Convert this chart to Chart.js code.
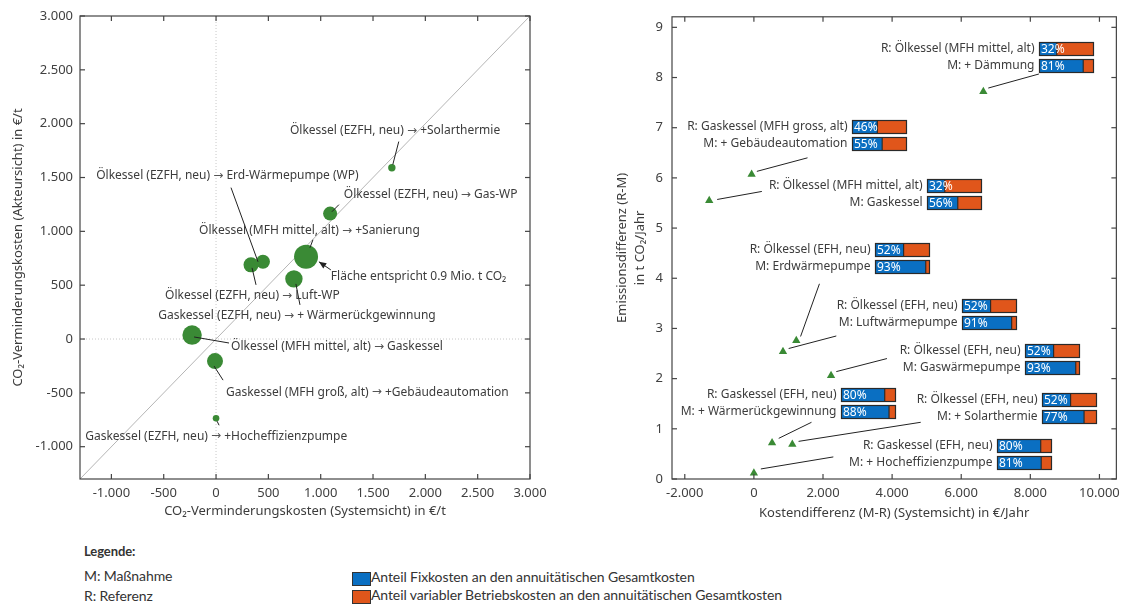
<!DOCTYPE html>
<html>
<head>
<meta charset="utf-8">
<script src="https://cdn.jsdelivr.net/npm/chart.js@4.4.0/dist/chart.umd.min.js"></script>
<style>
  body { margin: 0; background: #fff; width: 1126px; height: 605px; overflow: hidden; position: relative; font-family: 'Noto Sans', sans-serif; }
  #wrapL { position: absolute; left: 0; top: 0; width: 560px; height: 530px; }
  #wrapR { position: absolute; left: 590px; top: 0; width: 536px; height: 530px; }
  .lg { position: absolute; font-family: 'Lato', sans-serif; font-size: 14px; color: #333; white-space: nowrap; letter-spacing: -0.1px; }
  .sw { position: absolute; width: 17px; height: 12px; border: 1px solid #333; }
</style>
</head>
<body>
<div id="wrapL"><canvas id="leftChart"></canvas></div>
<div id="wrapR"><canvas id="rightChart"></canvas></div>

<div class="lg" style="left:84px;top:543px;font-weight:bold;font-size:13px;">Legende:</div>
<div class="lg" style="left:84px;top:567px;">M: Maßnahme</div>
<div class="lg" style="left:84px;top:587px;">R: Referenz</div>
<div class="sw" style="left:352px;top:572px;background:#0a6fc2;"></div>
<div class="lg" style="left:371px;top:568px;">Anteil Fixkosten an den annuitätischen Gesamtkosten</div>
<div class="sw" style="left:352px;top:590px;background:#e0561b;"></div>
<div class="lg" style="left:371px;top:586px;">Anteil variabler Betriebskosten an den annuitätischen Gesamtkosten</div>

<script>
// -------- Data: left chart (CO2 abatement costs, bubble area = CO2 volume) --------
const leftNames = [
  'Ölkessel (EZFH, neu) → +Solarthermie',
  'Ölkessel (EZFH, neu) → Gas-WP',
  'Ölkessel (MFH mittel, alt) → +Sanierung',
  'Ölkessel (EZFH, neu) → Erd-Wärmepumpe (WP)',
  'Ölkessel (EZFH, neu) → Luft-WP',
  'Gaskessel (EZFH, neu) → + Wärmerückgewinnung',
  'Ölkessel (MFH mittel, alt) → Gaskessel',
  'Gaskessel (MFH groß, alt) → +Gebäudeautomation',
  'Gaskessel (EZFH, neu) → +Hocheffizienzpumpe',
];
const costSystem = [1680, 1090, 860, 448, 334, 744, -229, -10, 0];
const costActor = [1590, 1165, 765, 717, 689, 559, 37, -205, -736];
const bubbleRadius = [3.7, 7, 12, 7, 7.5, 8.7, 9.7, 8, 3.3];
const leftTicks = [-1000, -500, 0, 500, 1000, 1500, 2000, 2500, 3000];

// -------- Data: right chart (cost vs. emission difference) --------
const refNames = [
  'R: Ölkessel (MFH mittel, alt)', 'R: Gaskessel (MFH gross, alt)', 'R: Ölkessel (MFH mittel, alt)',
  'R: Ölkessel (EFH, neu)', 'R: Ölkessel (EFH, neu)', 'R: Ölkessel (EFH, neu)',
  'R: Gaskessel (EFH, neu)', 'R: Ölkessel (EFH, neu)', 'R: Gaskessel (EFH, neu)',
];
const measNames = [
  'M: + Dämmung', 'M: + Gebäudeautomation', 'M: Gaskessel',
  'M: Erdwärmepumpe', 'M: Luftwärmepumpe', 'M: Gaswärmepumpe',
  'M: + Wärmerückgewinnung', 'M: + Solarthermie', 'M: + Hocheffizienzpumpe',
];
const costDiff = [6640, -66, -1293, 1227, 842, 2233, 526, 1112, 0];
const emisDiff = [7.72, 6.07, 5.55, 2.76, 2.54, 2.06, 0.72, 0.69, 0.12];
const refFixShare = [32, 46, 32, 52, 52, 52, 80, 52, 80];
const measFixShare = [81, 55, 56, 93, 91, 93, 88, 77, 81];
const rightXTicks = [-2000, 0, 2000, 4000, 6000, 8000, 10000];
const rightYTicks = [0, 1, 2, 3, 4, 5, 6, 7, 8, 9];

// -------- Layout of annotations (data coordinates) --------
const leftLabelPos = [[706, 1937], [1221, 1341], [-162, 1006], [-1145, 1518], [-487, 400], [-553, 214], [143, -74], [95, -493], [-1250, -903]];
const leftLeaders = [
  [1746, 1834, 1689, 1620], [1174, 1248, 1107, 1182], [926, 922, 897, 847],
  [143, 1406, 401, 717], [382, 503, 344, 661], [802, 317, 763, 512],
  [124, -37, -210, 19], [67, -382, -19, -251], [29, -801, 10, -763],
];
const areaNotePos = [1097, 577];
const areaArrow = [1097, 642, 983, 717];

const blockPos = [[8248, 8.70], [2845, 7.16], [5000, 5.97], [3506, 4.70], [6035, 3.59], [7846, 2.70], [2529, 1.82], [8334, 1.72], [7041, 0.79]];
const rightLeaders = [
  [8248, 8.07, 6783, 7.79], [1552, 6.40, 86, 6.13], [230, 5.73, -1063, 5.57],
  [1897, 3.89, 1351, 2.84], [2385, 2.85, 1006, 2.60], [3851, 2.40, 2385, 2.14],
  [1667, 1.13, 718, 0.81], [4828, 1.13, 1293, 0.75], [2299, 0.44, 201, 0.20],
];

// -------- Styles --------
const GREEN = '#3a8a35';
const BLUE = '#0a6fc2';
const ORANGE = '#e0561b';
const TEXT = '#3c3c3c';
const FONT = "'Noto Sans', sans-serif";

// -------- Utils --------
function fmtDE(v) {
  const s = Math.abs(v).toString().replace(/\B(?=(\d{3})+(?!\d))/g, '.');
  return (v < 0 ? '-' : '') + s;
}
function line(ctx, x1, y1, x2, y2) {
  ctx.beginPath(); ctx.moveTo(x1, y1); ctx.lineTo(x2, y2); ctx.stroke();
}
// left-aligned text where the arrow glyph gets a wider font
function arrowText(ctx, text, x, y) {
  const parts = text.split('→');
  let cx = x;
  parts.forEach((p, i) => {
    ctx.font = `12px ${FONT}`;
    ctx.fillStyle = TEXT;
    ctx.fillText(p, cx, y);
    cx += ctx.measureText(p).width;
    if (i < parts.length - 1) {
      ctx.font = "12px 'DejaVu Sans'";
      ctx.fillStyle = '#555';
      ctx.fillText('→', cx, y);
      cx += ctx.measureText('→').width;
    }
  });
}

// frame with inward tick marks on all four sides
const frameTicks = {
  id: 'frameTicks',
  afterDraw(chart) {
    const { ctx, chartArea: a, scales: { x, y } } = chart;
    ctx.save();
    ctx.strokeStyle = '#444';
    ctx.lineWidth = 1.2;
    ctx.strokeRect(a.left, a.top, a.right - a.left, a.bottom - a.top);
    const len = 5;
    x.ticks.forEach(t => {
      const px = x.getPixelForValue(t.value);
      line(ctx, px, a.bottom, px, a.bottom - len);
      line(ctx, px, a.top, px, a.top + len);
    });
    y.ticks.forEach(t => {
      const py = y.getPixelForValue(t.value);
      line(ctx, a.left, py, a.left + len, py);
      line(ctx, a.right, py, a.right - len, py);
    });
    ctx.restore();
  }
};

// dotted zero lines (left chart)
const zeroLines = {
  id: 'zeroLines',
  beforeDatasetsDraw(chart) {
    const { ctx, chartArea: a, scales: { x, y } } = chart;
    ctx.save();
    ctx.strokeStyle = '#c8c8c8';
    ctx.lineWidth = 1;
    ctx.setLineDash([1, 2]);
    const px = x.getPixelForValue(0), py = y.getPixelForValue(0);
    line(ctx, px, a.top, px, a.bottom);
    line(ctx, a.left, py, a.right, py);
    ctx.restore();
  }
};

const leftNotes = {
  id: 'leftNotes',
  afterDatasetsDraw(chart) {
    const { ctx, scales: { x, y } } = chart;
    ctx.save();
    ctx.strokeStyle = '#222';
    ctx.lineWidth = 1;
    leftLeaders.forEach(l => line(ctx, x.getPixelForValue(l[0]), y.getPixelForValue(l[1]), x.getPixelForValue(l[2]), y.getPixelForValue(l[3])));
    // arrow for the area note
    const ax1 = x.getPixelForValue(areaArrow[0]), ay1 = y.getPixelForValue(areaArrow[1]);
    const ax2 = x.getPixelForValue(areaArrow[2]), ay2 = y.getPixelForValue(areaArrow[3]);
    line(ctx, ax1, ay1, ax2, ay2);
    const ang = Math.atan2(ay2 - ay1, ax2 - ax1);
    ctx.fillStyle = '#222';
    ctx.beginPath();
    ctx.moveTo(ax2, ay2);
    ctx.lineTo(ax2 - 8 * Math.cos(ang - 0.4), ay2 - 8 * Math.sin(ang - 0.4));
    ctx.lineTo(ax2 - 8 * Math.cos(ang + 0.4), ay2 - 8 * Math.sin(ang + 0.4));
    ctx.closePath();
    ctx.fill();

    ctx.textAlign = 'left';
    ctx.textBaseline = 'middle';
    leftNames.forEach((t, i) => arrowText(ctx, t, x.getPixelForValue(leftLabelPos[i][0]), y.getPixelForValue(leftLabelPos[i][1])));
    arrowText(ctx, 'Fläche entspricht 0.9 Mio. t CO₂', x.getPixelForValue(areaNotePos[0]), y.getPixelForValue(areaNotePos[1]));
    ctx.restore();
  }
};

const rightNotes = {
  id: 'rightNotes',
  afterDatasetsDraw(chart) {
    const { ctx, scales: { x, y } } = chart;
    const barW = 54, barH = 13, gap = 4;
    ctx.save();
    ctx.strokeStyle = '#222';
    ctx.lineWidth = 1;
    rightLeaders.forEach(l => line(ctx, x.getPixelForValue(l[0]), y.getPixelForValue(l[1]), x.getPixelForValue(l[2]), y.getPixelForValue(l[3])));

    blockPos.forEach((p, i) => {
      const bx = Math.round(x.getPixelForValue(p[0])) + 0.5;
      const by = Math.round(y.getPixelForValue(p[1])) + 0.5;
      [refFixShare[i], measFixShare[i]].forEach((share, k) => {
        const top = by + k * (barH + gap);
        const wb = barW * share / 100;
        ctx.fillStyle = BLUE;
        ctx.fillRect(bx, top, wb, barH);
        ctx.fillStyle = ORANGE;
        ctx.fillRect(bx + wb, top, barW - wb, barH);
        ctx.strokeStyle = '#2a2a2a';
        ctx.lineWidth = 1.2;
        ctx.strokeRect(bx, top, barW, barH);
        line(ctx, bx + wb, top, bx + wb, top + barH);
        ctx.fillStyle = '#fff';
        ctx.font = `12px ${FONT}`;
        ctx.textAlign = 'left';
        ctx.textBaseline = 'middle';
        ctx.fillText(share + '%', bx + 1.5, top + barH / 2 + 0.5);
      });
      ctx.fillStyle = TEXT;
      ctx.font = `12px ${FONT}`;
      ctx.textAlign = 'right';
      ctx.textBaseline = 'middle';
      ctx.fillText(refNames[i], bx - 5, by + barH / 2);
      ctx.fillText(measNames[i], bx - 5, by + barH + gap + barH / 2);
    });
    ctx.restore();
  }
};

function axisCommon(ticksList, fit, pad) {
  return {
    type: 'linear',
    grid: { display: false, drawTicks: false },
    border: { display: false },
    afterBuildTicks: s => { s.ticks = ticksList.map(v => ({ value: v })); },
    afterFit: fit,
    ticks: { color: '#404040', font: { family: FONT, size: 13 }, padding: pad, callback: v => fmtDE(v) },
  };
}

// -------- Charts --------
new Chart(document.getElementById('leftChart'), {
  type: 'bubble',
  data: {
    datasets: [
      {
        data: costSystem.map((v, i) => ({ x: v, y: costActor[i], r: bubbleRadius[i] })),
        backgroundColor: GREEN,
        borderColor: GREEN,
        borderWidth: 0,
        order: 1,
      },
      {
        type: 'line',
        data: [{ x: -1300, y: -1300 }, { x: 3000, y: 3000 }],
        borderColor: '#b5b5b5',
        borderWidth: 1,
        pointRadius: 0,
        order: 2,
      },
    ],
  },
  options: {
    responsive: true,
    maintainAspectRatio: false,
    animation: false,
    events: [],
    layout: { padding: { top: 16, right: 30, left: 0, bottom: 0 } },
    plugins: { legend: { display: false }, tooltip: { enabled: false } },
    scales: {
      x: {
        ...axisCommon(leftTicks, s => { s.height = 51; }, 6),
        min: -1300, max: 3000,
        title: { display: true, text: 'CO₂-Verminderungskosten (Systemsicht) in €/t', color: TEXT, font: { family: FONT, size: 13 }, padding: { top: 0, bottom: 11 } },
      },
      y: {
        ...axisCommon(leftTicks, s => { s.width = 80; }, 7),
        min: -1300, max: 3000,
        title: { display: true, text: 'CO₂-Verminderungskosten (Akteursicht) in €/t', color: TEXT, font: { family: FONT, size: 13 }, padding: { top: 10, bottom: 0 } },
      },
    },
  },
  plugins: [zeroLines, leftNotes, frameTicks],
});

new Chart(document.getElementById('rightChart'), {
  type: 'scatter',
  data: {
    datasets: [{
      data: costDiff.map((v, i) => ({ x: v, y: emisDiff[i] })),
      pointStyle: 'triangle',
      pointRadius: 4.8,
      backgroundColor: GREEN,
      borderColor: GREEN,
      borderWidth: 0,
    }],
  },
  options: {
    responsive: true,
    maintainAspectRatio: false,
    animation: false,
    events: [],
    layout: { padding: { top: 15, right: 6, left: 0, bottom: 0 } },
    plugins: { legend: { display: false }, tooltip: { enabled: false } },
    scales: {
      x: {
        ...axisCommon(rightXTicks, s => { s.height = 51; }, 6),
        min: -2370, max: 10490,
        title: { display: true, text: 'Kostendifferenz (M-R) (Systemsicht) in €/Jahr', color: TEXT, font: { family: FONT, size: 13 }, padding: { top: 0, bottom: 9 } },
      },
      y: {
        ...axisCommon(rightYTicks, s => { s.width = 82; }, 9),
        min: 0, max: 9.21,
        title: { display: true, text: ['Emissionsdifferenz (R-M)', 'in t CO₂/Jahr'], color: TEXT, font: { family: FONT, size: 13, lineHeight: 1.4 }, padding: { top: 23, bottom: 0 } },
      },
    },
  },
  plugins: [rightNotes, frameTicks],
});
</script>
</body>
</html>
